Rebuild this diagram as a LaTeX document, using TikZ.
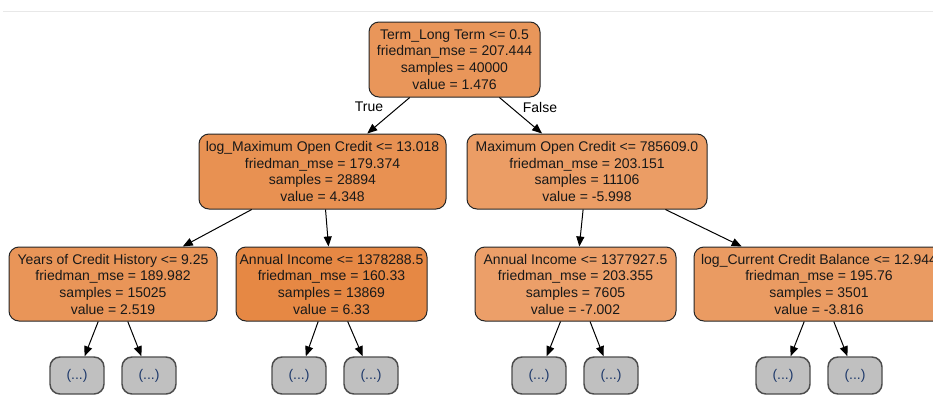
\documentclass[tikz,border=0pt]{standalone}
\usepackage{fontspec}
\setmainfont{Liberation Sans}
\usetikzlibrary{arrows.meta}
\definecolor{cRoot}{HTML}{E9965A}
\definecolor{cLa}{HTML}{E89152}
\definecolor{cLb}{HTML}{EB9D65}
\definecolor{cA}{HTML}{E99558}
\definecolor{cB}{HTML}{E68844}
\definecolor{cC}{HTML}{EC9F69}
\definecolor{cD}{HTML}{EA9B62}
\definecolor{leafgray}{HTML}{C0C0C0}
\definecolor{leaftext}{HTML}{1F3A6B}
\definecolor{rulegray}{HTML}{E8E8E8}
\begin{document}
\begin{tikzpicture}[x=0.75pt,y=-0.75pt,
  tree/.style={draw=black!85, line width=0.75pt, rounded corners=7.5pt, align=center,
    font=\fontsize{10.5}{12.5}\selectfont, inner sep=0pt, text=black!90},
  leaf/.style={draw=black!70, line width=1.1pt, rounded corners=7.5pt, fill=leafgray,
    minimum width={54*0.75pt}, minimum height={37*0.75pt}, inner sep=0pt,
    font=\fontsize{10.5}{12.5}\selectfont, text=leaftext},
  edge/.style={line width=0.75pt, -{Triangle[length=7.5pt,width=6pt]}},
  elabel/.style={font=\fontsize{10.5}{12.5}\selectfont}]
\useasboundingbox (0,0) rectangle (933,404);
\fill[white] (0,0) rectangle (933,404);
\draw[rulegray, line width=0.75pt] (3,11) -- (933,11);

\node[tree, fill=cRoot, minimum width={171*0.75pt}, minimum height={75*0.75pt}] (root) at (454.5,59.5)
  {Term\_Long Term <= 0.5\\friedman\_mse = 207.444\\samples = 40000\\value = 1.476};
\node[tree, fill=cLa, minimum width={247*0.75pt}, minimum height={75*0.75pt}] (la) at (322.5,171.5)
  {log\_Maximum Open Credit <= 13.018\\friedman\_mse = 179.374\\samples = 28894\\value = 4.348};
\node[tree, fill=cLb, minimum width={240*0.75pt}, minimum height={75*0.75pt}] (lb) at (587,171.5)
  {Maximum Open Credit <= 785609.0\\friedman\_mse = 203.151\\samples = 11106\\value = -5.998};
\node[tree, fill=cA, minimum width={208*0.75pt}, minimum height={74*0.75pt}] (na) at (113,284)
  {Years of Credit History <= 9.25\\friedman\_mse = 189.982\\samples = 15025\\value = 2.519};
\node[tree, fill=cB, minimum width={191*0.75pt}, minimum height={74*0.75pt}] (nb) at (331.5,284)
  {Annual Income <= 1378288.5\\friedman\_mse = 160.33\\samples = 13869\\value = 6.33};
\node[tree, fill=cC, minimum width={201*0.75pt}, minimum height={74*0.75pt}] (nc) at (575.5,284)
  {Annual Income <= 1377927.5\\friedman\_mse = 203.355\\samples = 7605\\value = -7.002};
\node[tree, fill=cD, minimum width={250*0.75pt}, minimum height={74*0.75pt}] (nd) at (819,284)
  {log\_Current Credit Balance <= 12.944\\friedman\_mse = 195.76\\samples = 3501\\value = -3.816};

\node[leaf] (a1) at (77,375.5) {(...)};
\node[leaf] (a2) at (149,375.5) {(...)};
\node[leaf] (b1) at (299,375.5) {(...)};
\node[leaf] (b2) at (371,375.5) {(...)};
\node[leaf] (c1) at (539,375.5) {(...)};
\node[leaf] (c2) at (611,375.5) {(...)};
\node[leaf] (d1) at (783,375.5) {(...)};
\node[leaf] (d2) at (855,375.5) {(...)};

\draw[edge] (root) -- (la);
\draw[edge] (root) -- (lb);
\node[elabel] (tl) at (369,107) {True};
\node[elabel] (fl) at (540,107) {False};
\draw[edge] (la) -- (na);
\draw[edge] (la) -- (nb);
\draw[edge] (lb) -- (nc);
\draw[edge] (lb) -- (nd);
\draw[edge] (na) -- (a1);
\draw[edge] (na) -- (a2);
\draw[edge] (nb) -- (b1);
\draw[edge] (nb) -- (b2);
\draw[edge] (nc) -- (c1);
\draw[edge] (nc) -- (c2);
\draw[edge] (nd) -- (d1);
\draw[edge] (nd) -- (d2);
\end{tikzpicture}
\end{document}
